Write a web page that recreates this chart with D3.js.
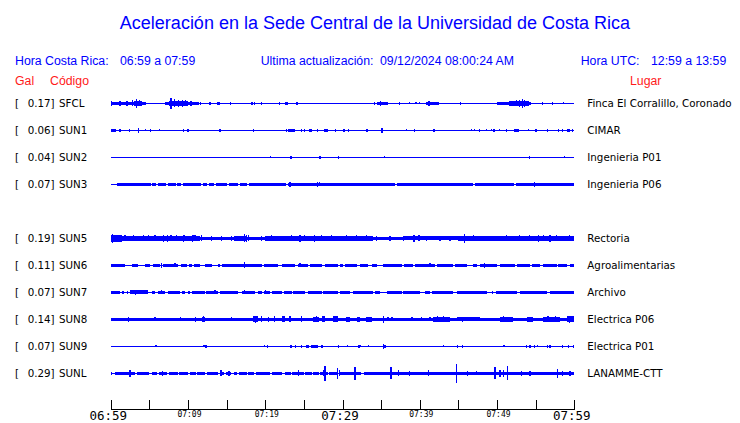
<!DOCTYPE html>
<html><head><meta charset="utf-8">
<script src="https://cdn.jsdelivr.net/npm/d3@7"></script>
<style>body{margin:0;background:#fff} svg{display:block}</style>
</head><body>
<svg id="chart" width="740" height="423"></svg>
<script>
// ---------- data ----------
const titleText = "Aceleración en la Sede Central de la Universidad de Costa Rica";
const rowSlots = ["SFCL","SUN1","SUN2","SUN3","","SUN5","SUN6","SUN7","SUN8","SUN9","SUNL"];
const stationCodes = ["SFCL","SUN1","SUN2","SUN3","SUN5","SUN6","SUN7","SUN8","SUN9","SUNL"];
const galValues = [0.17,0.06,0.04,0.07,0.19,0.11,0.07,0.14,0.07,0.29];
const places = ["Finca El Corralillo, Coronado","CIMAR","Ingenieria P01","Ingenieria P06","Rectoria","Agroalimentarias","Archivo","Electrica P06","Electrica P01","LANAMME-CTT"];
const tickMinutes = [0,5,10,15,20,25,30,35,40,45,50,55,60];
const tickLabels = ["06:59","","07:09","","07:19","","07:29","","07:39","","07:49","","07:59"];

// envelope blocks [startMinute, endMinute, amplitude] and spikes [minute, amplitude]
const segSFCL = [[0,4.55,1.7],[3.0,4.0,2.4],[7.0,11.45,1.8],[7.5,10.0,2.5],[13.7,14.1,1.7],[22.5,22.9,1.8],[34.5,35.9,1.8],[40.8,42.5,1.8],[49.95,54.35,1.6],[51.5,54.0,2.6]];
const spkSFCL = [[0.1,2.5],[1.2,2.5],[2.1,2.5],[2.8,3],[3.36,4.5],[3.7,3],[7.8,5.3],[8.3,4],[8.8,3.5],[9.3,3.5],[9.7,3],[10.4,2.5],[11.65,1.4],[12.85,1.3],[15.5,1.4],[18.3,1.3],[18.6,1.3],[19.5,1.2],[21.8,1.2],[24.1,1.3],[34.1,1.3],[34.9,2.5],[37.4,1.2],[38.7,1.0],[39.5,1.0],[40.0,1.0],[41.2,2.5],[45.3,1.3],[51.75,2.5],[52.5,3],[52.9,3.5],[53.3,4.5],[53.6,3.5],[54.1,2.5],[55.85,1.3],[57.15,1.5],[58.6,1.0]];
const segSUN1 = [[0.1,0.7,1.7],[14.0,14.3,1.7],[23.0,23.85,1.7],[25.65,26.0,1.7],[27.55,28.1,1.7],[33.05,33.3,1.5],[41.75,42.0,1.7],[52.25,52.85,1.7],[59.0,59.45,1.7]];
const spkSUN1 = [[1.2,1.3],[2.4,1.3],[3.6,2.3],[4.55,1.0],[5.1,1.3],[6.3,1.0],[9.45,1.3],[9.9,1.3],[10.1,1.3],[18.45,1.3],[22.8,1.7],[24.7,1.3],[25.1,1.3],[26.8,1.3],[29.1,1.3],[30.2,1.3],[30.75,1.3],[35.1,2.6],[38.3,1.0],[39.3,1.3],[46.7,1.0],[47.05,1.0],[47.7,1.3],[48.65,1.0],[49.3,1.0],[49.6,1.3],[50.3,1.0],[51.25,1.3],[54.05,1.0],[55.05,1.5],[56.5,1.3],[58.0,1.3],[58.5,1.3],[59.8,1.5]];
const segSUN2 = [[23.2,23.5,1.7],[26.9,27.2,1.7]];
const spkSUN2 = [[20.7,1.0],[29.45,1.3],[35.4,1.0],[54.2,1.5],[58.7,1.0]];
const segSUN3 = [[0,0.1,1.2],[0.8,5.2,1.3],[5.4,5.9,1.3],[6.1,7.2,1.3],[7.4,8.4,1.3],[8.6,9.1,1.3],[9.3,11.7,1.3],[11.9,12.5,1.3],[12.7,13.4,1.3],[13.6,15.1,1.3],[15.3,16.5,1.3],[16.7,17.7,1.3],[17.9,22.7,1.3],[22.9,36.8,1.3],[37.0,46.9,1.3],[47.1,52.2,1.3],[52.4,60,1.3]];
const spkSUN3 = [[23.2,2.5],[26.8,2.6],[27.0,2.0],[54.9,2.3]];
const segSUN5 = [[0,1.5,3.3],[1.5,7,2.3],[7,11.5,2.5],[11.5,16,1.6],[16,17.7,2.2],[17.7,20,1.8],[20,30,2.3],[30,34,2.4],[34,38,1.8],[38,45,1.9],[45,50,2.3],[50,60,2.5]];
const spkSUN5 = [[0.2,4.5],[0.55,3.2],[0.6,3.8],[1.0,3.5],[1.2,3.0],[1.85,3.0],[2.92,3.0],[4.22,3.0],[4.86,3.0],[5.73,3.0],[6.8,3.5],[7.3,3.3],[7.8,3],[7.88,3.0],[8.53,3.0],[9.4,3.6],[9.6,3.0],[10.6,3.6],[10.68,3.0],[10.9,3],[11.8,3],[13.05,2.5],[14.35,2.5],[15.64,2.5],[16.28,2.6],[17.3,4],[17.6,3.3],[17.79,3.0],[19.52,2.8],[20.8,3],[21.24,2.8],[22.8,2.8],[23.4,3.0],[24.5,3.2],[25.12,3.0],[26.4,3.2],[27.28,3.0],[28.57,3.0],[29.4,2.8],[30.54,3.0],[31.84,3.0],[33.13,3.0],[34.42,2.6],[36.15,2.6],[37.87,2.6],[39.25,3.3],[39.9,3],[40.89,2.8],[42.61,2.8],[43.9,2.8],[45.75,4.5],[46.92,3.0],[47.5,2.6],[48.8,2.6],[49.6,2.6],[51.23,3.0],[52.95,3.0],[54.25,3.0],[55.4,3.4],[55.97,3.0],[56.85,3.8],[57.7,3.0],[58.1,2.6],[59.42,3.0]];
const segSUN6 = [[0,1.85,1.4],[2.71,3.57,1.4],[4.44,5.08,1.4],[5.51,6.38,1.4],[6.81,8.75,1.4],[9.1,9.83,1.4],[10.13,10.56,1.4],[10.82,11.55,1.4],[12.2,13.06,1.4],[13.84,14.14,1.4],[14.36,19.54,1.4],[19.88,21.69,1.4],[22.12,23.85,1.4],[24.2,25.57,1.4],[25.79,27.3,1.4],[27.73,29.46,1.4],[29.67,30.1,1.4],[30.33,31.84,1.4],[32.27,33.35,1.4],[33.78,34.43,1.4],[35.29,37.66,1.4],[38.01,39.08,1.4],[39.39,41.98,1.4],[42.19,44.35,1.4],[44.56,46.07,1.4],[46.94,47.37,1.4],[47.8,49.96,1.4],[50.39,52.33,1.4],[52.55,54.27,1.4],[54.49,55.57,1.4],[56.0,57.72,1.4],[57.94,59.02,1.4],[59.45,60,1.4]];
const spkSUN6 = [[6.59,2.5],[8.32,2],[17.29,2.8],[24.5,2],[25.1,1.7],[41.33,1.8],[48.36,2.6]];
const segSUN7 = [[0,1.2,1.4],[1.5,1.76,1.4],[2.06,2.28,1.4],[2.5,4.87,1.8],[5.3,5.73,1.4],[6.08,7.03,1.4],[7.46,8.97,1.4],[9.27,9.61,1.4],[9.96,10.26,1.4],[10.48,12.2,1.4],[12.35,13.93,1.4],[14.14,16.52,1.4],[16.95,18.67,1.4],[19.1,19.54,1.4],[19.88,20.61,1.4],[20.92,22.12,1.4],[22.38,23.42,1.4],[23.64,25.14,1.4],[25.49,27.3,1.4],[27.52,29.46,1.4],[29.67,30.97,1.4],[31.41,33.99,1.4],[34.2,34.85,1.4],[35.72,37.66,1.4],[37.88,40.03,1.4],[40.68,41.33,1.4],[41.54,44.35,1.6],[44.78,48.66,1.4],[49.3,49.5,1.4],[49.87,52.55,1.4],[52.98,56.43,1.4],[56.86,60,1.4]];
const spkSUN7 = [[3.2,2.3],[3.5,2.0],[6.59,2.0],[13.5,2.0],[17.3,2.0],[20.05,1.8],[34.3,1.7]];
const segSUN8 = [[0,60,1.6],[11.85,12.2,2.6],[18.46,19.1,3.0],[22.2,22.55,2.8],[26.2,26.9,2.6],[27.3,27.7,2.8],[28.8,29.46,2.8],[30.5,31.0,2.3],[31.84,32.27,2.3],[33.1,33.8,2.3],[41.76,43.9,2.6],[44.78,47.8,2.0],[50.39,52.1,2.4],[53.84,54.7,2.3],[55.99,58.15,2.5],[59.0,60,2.8]];
const spkSUN8 = [[2.28,2.3],[5.73,2.0],[9.01,2.0],[10.99,2.3],[12.0,3.0],[15.65,1.8],[18.7,3.5],[19.54,2.8],[20.4,2.3],[21.17,3.2],[22.4,3],[23.2,3.2],[24.7,2.8],[26.6,3],[27.5,3.2],[29.0,3.2],[35.29,3.6],[35.9,2.2],[36.4,2.2],[39.0,2.0],[40.2,2.0],[41.33,2.0],[42.3,3.2],[43.1,3.0],[45.5,2.6],[50.8,3.0],[51.5,2.6],[54.3,2.6],[56.6,3.2],[57.6,2.8],[59.4,3.4],[59.9,3.0]];
const segSUN9 = [[23.2,23.5,1.7],[25.3,25.7,1.5],[25.9,26.85,1.6],[27.2,27.5,1.5],[35.29,35.59,1.6]];
const spkSUN9 = [[5.86,1.0],[12.07,1.0],[12.33,1.3],[19.88,1.0],[20.27,1.3],[23.94,1.3],[24.71,1.3],[29.46,1.3],[30.63,1.0],[32.14,1.3],[32.35,1.0],[33.35,1.0],[35.3,2.3],[43.05,1.0],[44.87,1.3],[45.56,1.3],[50.9,1.0],[53.84,1.3],[54.27,1.3],[54.83,1.3],[55.22,1.0],[56.5,1.5],[56.86,1.5],[58.5,1.3],[59.27,1.3],[59.88,1.3]];
const segSUNL = [[0,0.15,1.6],[0.5,3.1,1.6],[3.4,5.0,1.6],[5.3,6.0,1.6],[6.2,7.3,1.6],[7.5,8.7,1.6],[8.9,10.0,1.6],[10.3,11.0,1.6],[11.2,12.2,1.6],[12.4,13.9,1.6],[14.1,14.7,1.6],[14.9,15.6,1.6],[15.9,16.4,1.6],[16.6,17.6,1.6],[17.8,18.5,1.6],[18.8,20.6,1.6],[20.9,22.2,1.6],[22.5,23.3,1.6],[23.5,25.0,1.6],[25.2,26.0,1.6],[26.2,26.9,1.6],[27.1,28.1,1.6],[28.3,29.3,1.6],[29.5,32.4,1.6],[32.8,60,1.6]];
const spkSUNL = [[2.5,3.3],[6.72,2.3],[14.27,3.0],[15.3,2.5],[24.28,3.0],[27.52,3.0],[27.73,7.3],[29.37,5.5],[29.6,3.0],[31.62,6.3],[36.28,6.0],[37.23,3.0],[38.65,2.5],[41.11,3.0],[44.74,9.3],[46.2,2.5],[47.37,2.0],[49.74,6.0],[50.39,3.3],[50.82,3.3],[51.34,7.0],[53.19,2.5],[54.27,2.5],[57.81,4.5],[58.5,2.5],[59.45,2.5]];

const segments = [segSFCL,segSUN1,segSUN2,segSUN3,segSUN5,segSUN6,segSUN7,segSUN8,segSUN9,segSUNL];
const spikes = [spkSFCL,spkSUN1,spkSUN2,spkSUN3,spkSUN5,spkSUN6,spkSUN7,spkSUN8,spkSUN9,spkSUNL];

// ---------- drawing ----------
const BLUE = "#0000ff", RED = "#ff1a1a";
const svg = d3.select("#chart");
const t0 = new Date(2024, 11, 9, 6, 59), t1 = new Date(2024, 11, 9, 7, 59);
const toDate = m => new Date(t0.getTime() + m * 60000);
const x = d3.scaleTime().domain([t0, t1]).range([110.7, 574.3]);
const y = d3.scalePoint().domain(rowSlots).range([103.3, 373.3]);
const amp = d3.scaleLinear().domain([0, 10]).range([0, 10]);

const sans = "'Liberation Sans', Arial, sans-serif";
const dv = "'DejaVu Sans', sans-serif";

svg.append("text").attr("x", 375).attr("y", 28.5).attr("text-anchor", "middle")
  .style("font-family", sans).style("font-size", "18px").attr("fill", BLUE).text(titleText);

const hdr = [["Hora Costa Rica:", 15], ["06:59 a 07:59", 120], ["Ultima actualización:", 260.7],
  ["09/12/2024 08:00:24 AM", 380], ["Hora UTC:", 580.7], ["12:59 a 13:59", 651]];
svg.selectAll("text.hdr").data(hdr).join("text").attr("class", "hdr")
  .attr("x", d => d[1]).attr("y", 65).style("font-family", sans).style("font-size", "12.3px")
  .attr("fill", BLUE).text(d => d[0]);

const red = [["Gal", 15], ["Código", 50], ["Lugar", 630]];
svg.selectAll("text.red").data(red).join("text").attr("class", "red")
  .attr("x", d => d[1]).attr("y", 84.5).style("font-family", sans).style("font-size", "12.3px")
  .attr("fill", RED).text(d => d[0]);

stationCodes.forEach((code, i) => {
  const g = svg.append("g").attr("transform", `translate(0,${y(code)})`);
  g.append("line").attr("x1", x(t0)).attr("x2", x(t1)).attr("y1", 0).attr("y2", 0)
    .attr("stroke", BLUE).attr("stroke-width", 1).attr("shape-rendering", "crispEdges");
  g.selectAll("rect.seg").data(segments[i]).join("rect").attr("class", "seg")
    .attr("x", d => x(toDate(d[0]))).attr("width", d => x(toDate(d[1])) - x(toDate(d[0])))
    .attr("y", d => -amp(d[2])).attr("height", d => 2 * amp(d[2]))
    .attr("fill", BLUE).attr("shape-rendering", "crispEdges");
  g.selectAll("rect.spk").data(spikes[i]).join("rect").attr("class", "spk")
    .attr("x", d => x(toDate(d[0])) - 0.6).attr("width", 1.2)
    .attr("y", d => -amp(d[1])).attr("height", d => 2 * amp(d[1]))
    .attr("fill", BLUE).attr("shape-rendering", "crispEdges");
  const ty = 4;
  g.append("text").attr("x", 15).attr("y", ty).style("font-family", dv).style("font-size", "10.3px").text("[");
  g.append("text").attr("x", 27.7).attr("y", ty).style("font-family", dv).style("font-size", "10.3px").text(galValues[i].toFixed(2) + "]");
  g.append("text").attr("x", 59).attr("y", ty).style("font-family", dv).style("font-size", "10.3px").text(code);
  g.append("text").attr("x", 587.3).attr("y", ty).style("font-family", dv).style("font-size", "10.3px").text(places[i]);
});

// time axis
const axis = d3.axisBottom(x).tickValues(tickMinutes.map(toDate)).tickSizeInner(-9).tickSizeOuter(0)
  .tickFormat((d, i) => tickLabels[i]);
const ax = svg.append("g").attr("transform", "translate(0,409)").call(axis);
ax.select(".domain").attr("stroke", "#000").attr("shape-rendering", "crispEdges");
ax.selectAll(".tick line").attr("stroke", "#000").attr("shape-rendering", "crispEdges");
ax.selectAll(".tick text").each(function(d, i) {
  const major = tickMinutes[i] % 30 === 0;
  d3.select(this).attr("dy", null).attr("fill", "#000")
    .attr("y", major ? 10.5 : 7.5).attr("dx", major ? -3 : 1)
    .style("font-family", "'DejaVu Sans Mono', monospace")
    .style("font-size", major ? "12.5px" : "8px");
});
</script>
</body></html>
